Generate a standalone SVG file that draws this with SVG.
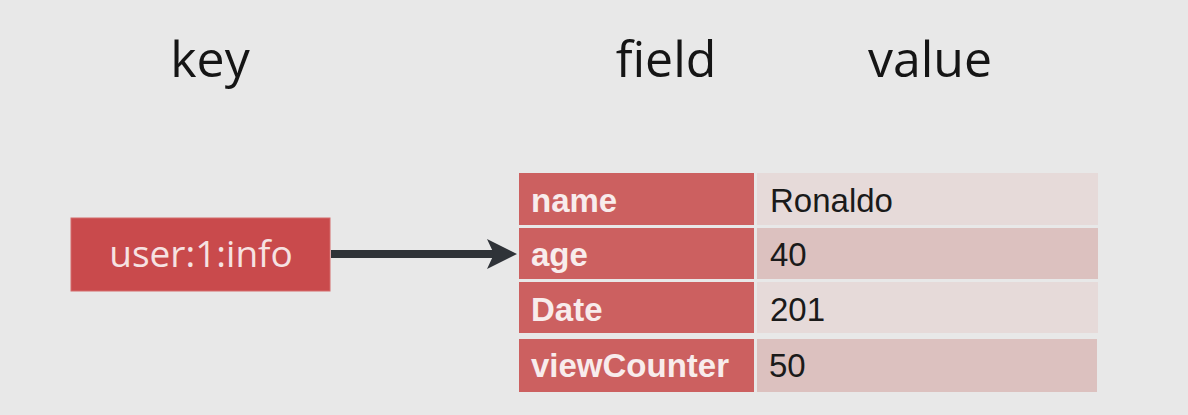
<svg xmlns="http://www.w3.org/2000/svg" width="1188" height="415" viewBox="0 0 1188 415">
<defs>
<style>
.hdr{font-family:"Open Sans","Noto Sans",sans-serif;font-size:50px;fill:#151515}
.key{fill:#c94a4c;stroke:#d46a6b;stroke-width:1}
.keyt{font-family:"Open Sans","Noto Sans",sans-serif;font-size:37px;fill:#f6e2e2}
.fld{fill:#cc6060}
.v1{fill:#e6dad9}
.v2{fill:#dcc1bf}
.ft{font-family:"Liberation Sans",Arial,sans-serif;font-weight:bold;font-size:33px;fill:#f8ecec}
.vt{font-family:"Liberation Sans",Arial,sans-serif;font-size:33px;fill:#1a1a1a}
</style>
<marker id="ah" markerUnits="userSpaceOnUse" markerWidth="30" markerHeight="30" viewBox="0 0 30 30" refX="13" refY="15" orient="auto">
<path d="M0,0 L30,15 L0,30 L7,15 Z" fill="#2f3338"/>
</marker>
</defs>
<rect width="1188" height="415" fill="#e8e8e8"/>
<g id="headers">
<text class="hdr" x="210" y="77" text-anchor="middle">key</text>
<text class="hdr" x="666" y="77" text-anchor="middle">field</text>
<text class="hdr" x="930" y="77" text-anchor="middle">value</text>
</g>
<g id="node-key">
<rect class="key" x="71" y="218" width="259" height="73"/>
<text class="keyt" x="201" y="267" text-anchor="middle">user:1:info</text>
</g>
<g id="connectors">
<line x1="331" y1="254" x2="500" y2="254" stroke="#2f3338" stroke-width="8" marker-end="url(#ah)"/>
</g>
<g id="node-hash">
<g id="row-name">
<rect class="fld" x="519" y="173" width="235" height="52"/>
<rect class="v1" x="757" y="173" width="341" height="52"/>
<text class="ft" x="531" y="212">name</text>
<text class="vt" x="770" y="212">Ronaldo</text>
</g>
<g id="row-age">
<rect class="fld" x="519" y="228" width="235" height="51"/>
<rect class="v2" x="757" y="228" width="341" height="51"/>
<text class="ft" x="531" y="266">age</text>
<text class="vt" x="770" y="266">40</text>
</g>
<g id="row-date">
<rect class="fld" x="519" y="282" width="235" height="51"/>
<rect class="v1" x="757" y="282" width="341" height="51"/>
<text class="ft" x="531" y="321">Date</text>
<text class="vt" x="770" y="321">201</text>
</g>
<g id="row-viewcounter">
<rect class="fld" x="519" y="339" width="235" height="53"/>
<rect class="v2" x="757" y="339" width="340" height="53"/>
<text class="ft" x="531" y="377">viewCounter</text>
<text class="vt" x="769" y="377">50</text>
</g>
</g>
</svg>
